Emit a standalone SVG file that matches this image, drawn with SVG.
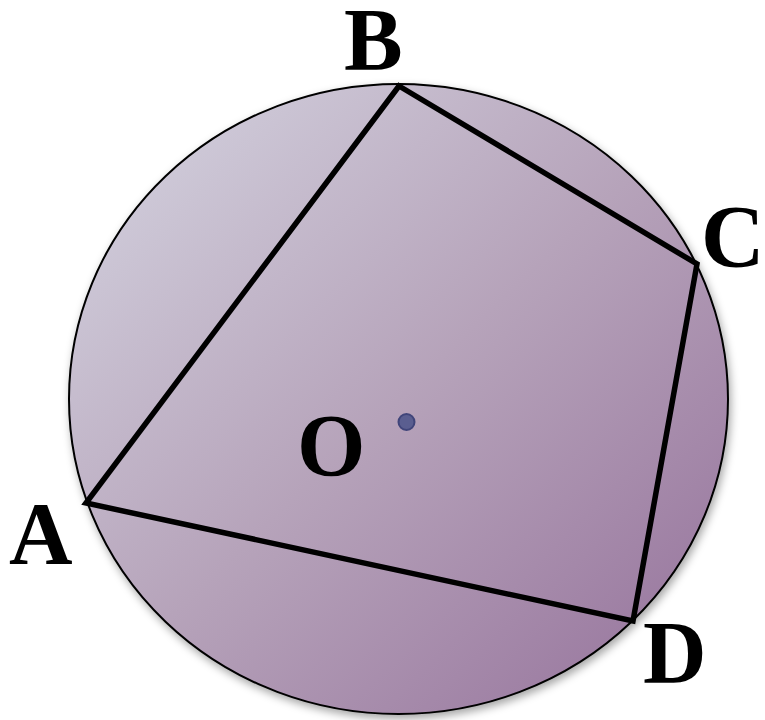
<svg xmlns="http://www.w3.org/2000/svg" width="765" height="720" viewBox="0 0 765 720">
  <defs>
    <linearGradient id="fillGrad" x1="0" y1="0" x2="1" y2="1">
      <stop offset="0" stop-color="#d6d6e2"/>
      <stop offset="0.5" stop-color="#b6a3ba"/>
      <stop offset="1" stop-color="#94709a"/>
    </linearGradient>
    <filter id="shadow" x="-10%" y="-10%" width="120%" height="120%">
      <feDropShadow dx="2" dy="4" stdDeviation="4" flood-color="#000" flood-opacity="0.35"/>
    </filter>
  </defs>
  <style>
    .lbl { font-family: "Liberation Serif", "Times New Roman", serif; font-weight: bold; font-size: 88px; fill: #000; }
    .edge { fill: none; stroke: #000; stroke-width: 5.5; stroke-linejoin: miter; }
  </style>
  <rect width="765" height="720" fill="#ffffff"/>
  <g id="circle">
    <ellipse cx="398.5" cy="399" rx="329.5" ry="315" fill="url(#fillGrad)" stroke="#000" stroke-width="2" filter="url(#shadow)"/>
  </g>
  <g id="connectors">
    <polygon class="edge" points="399,86 697,264 633,621 86,503"/>
  </g>
  <g id="center">
    <circle cx="406.5" cy="422" r="8" fill="#5a5e90" stroke="#40457a" stroke-width="2"/>
  </g>
  <g id="label-A"><text class="lbl" x="9" y="563">A</text></g>
  <g id="label-B"><text class="lbl" x="344" y="69">B</text></g>
  <g id="label-C"><text class="lbl" x="701" y="266">C</text></g>
  <g id="label-D"><text class="lbl" x="643" y="682">D</text></g>
  <g id="label-O"><text class="lbl" x="297" y="475">O</text></g>
</svg>
